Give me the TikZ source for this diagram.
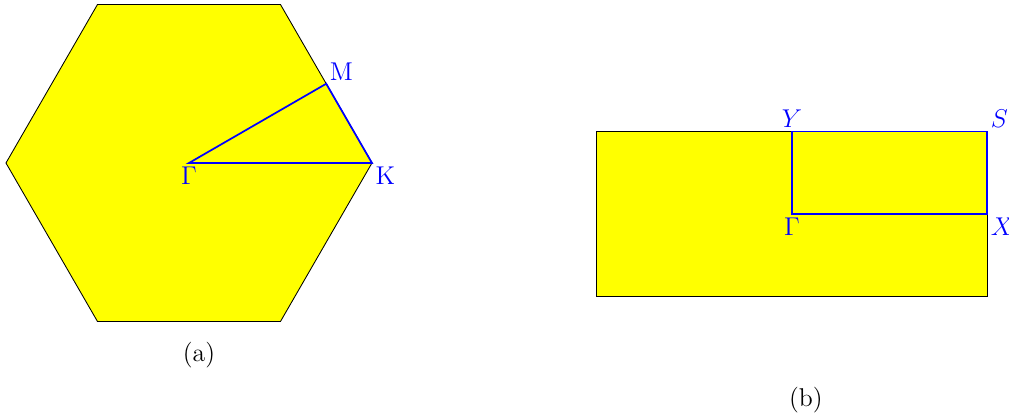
\documentclass[tikz,border=0pt]{standalone}
\usepackage{amsmath}
\usepackage{tikz}
\usepackage{xcolor}
\usetikzlibrary{calc, positioning}
\definecolor{zoneyellow}{RGB}{255,255,0}
\definecolor{pathblue}{RGB}{0,0,255}

\begin{document}
\begin{tikzpicture}[scale=1.0, font=\large]
    \useasboundingbox (-3.098,-4.197) rectangle (13.443,2.672);
    \pgfmathsetmacro{\hexr}{3.0}
    \pgfmathsetmacro{\recw}{3.2}
    \pgfmathsetmacro{\rech}{1.35}
    \tikzset{bzone/.style={draw=black,fill=zoneyellow}, kpath/.style={pathblue,thick}, klabel/.style={pathblue,inner sep=1.5pt}}

    % hexagonal zone
    \coordinate (G) at (0,0);
    \coordinate (K) at (\hexr,0);
    \coordinate (M) at ($(K)!0.5!(60:\hexr)$);
    \draw[bzone] (0:\hexr) -- (60:\hexr) -- (120:\hexr) -- (180:\hexr) -- (240:\hexr) -- (300:\hexr) -- cycle;
    \draw[kpath] (G) -- (M) -- (K) -- cycle;
    \node[klabel,below] at (G) {$\Gamma$};
    \node[klabel,above right] at (M) {M};
    \node[klabel,below right] at (K) {K};
    \node (capa) at (0.164,-3.148) {(a)};

    % rectangular zone
    \coordinate (G2) at (9.885,-0.836);
    \coordinate (X) at ($(G2)+(\recw,0)$);
    \coordinate (Y) at ($(G2)+(0,\rech)$);
    \coordinate (S) at ($(G2)+(\recw,\rech)$);
    \draw[bzone] ($(G2)+(-\recw,-\rech)$) rectangle (S);
    \draw[kpath] (G2) -- (X) -- (S) -- (Y) -- cycle;
    \node[klabel,below] at (G2) {$\Gamma$};
    \node[klabel,above] at (Y) {$Y$};
    \node[klabel,above right] at (S) {$S$};
    \node[klabel,below right] at (X) {$X$};
    \node (capb) at (10.115,-3.885) {(b)};
\end{tikzpicture}
\end{document}
